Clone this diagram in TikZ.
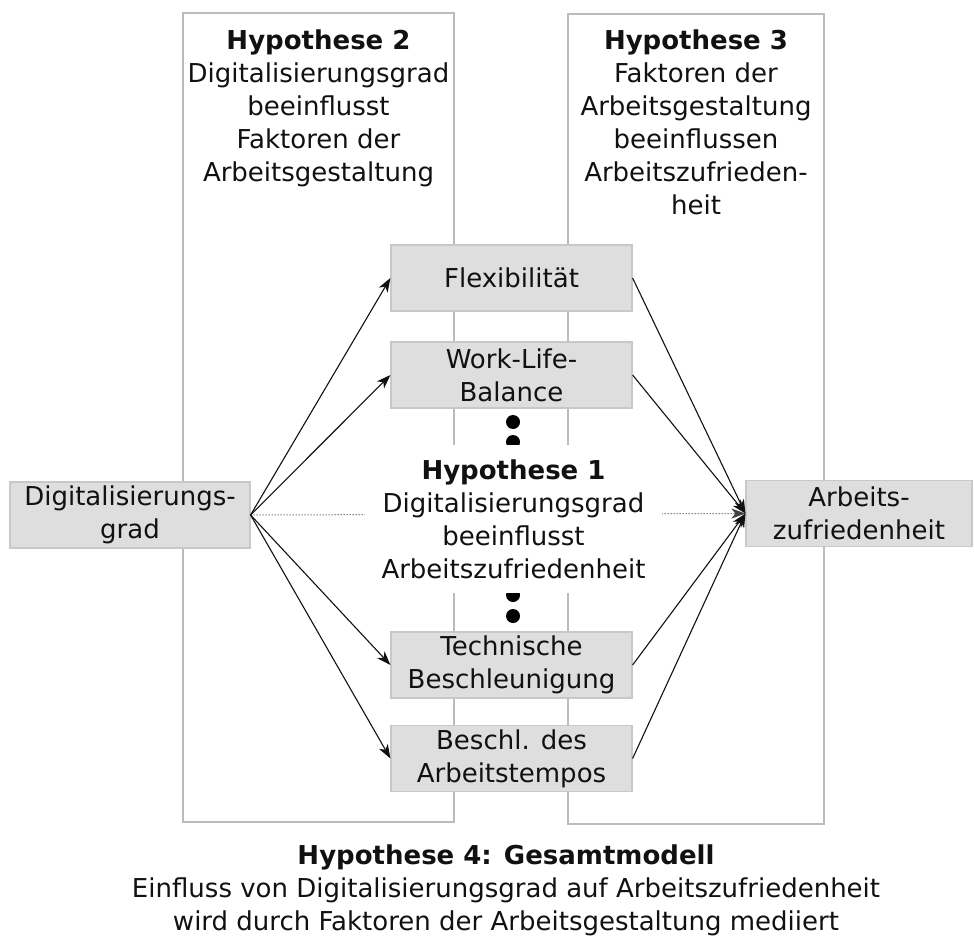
\documentclass[tikz,border=0pt]{standalone}
\usepackage{fontspec}
\setmainfont{DejaVu Sans}
\usetikzlibrary{arrows.meta}
\definecolor{boxfill}{HTML}{DEDEDE}
\definecolor{boxline}{HTML}{C8C8C8}
\definecolor{frameline}{HTML}{BBBBBB}
\definecolor{ink}{HTML}{111111}
\begin{document}
\begin{tikzpicture}[x=1pt,y=-1pt,
  txt/.style={font=\fontsize{26}{33}\selectfont, text=ink, align=center, inner sep=0pt},
  frame/.style={draw=frameline, line width=1.2pt, inner sep=0pt},
  factor/.style={txt, draw=boxline, fill=boxfill, line width=1.2pt, minimum width=241pt, minimum height=66pt},
  endbox/.style={txt, draw=boxline, fill=boxfill, line width=1.2pt, minimum height=66pt},
  dotmark/.style={circle, fill=black, inner sep=0pt, minimum size=14pt},
  link/.style={draw=ink, line width=1.1pt, -{Stealth[length=14pt,width=10pt,inset=4pt]}},
  dottedlink/.style={draw=ink!80, line width=1pt, dotted, -{Stealth[length=14pt,width=10pt,inset=4pt]}}]
\useasboundingbox (0,0) rectangle (974,936);

% tall frames of hypotheses 2 and 3
\node[frame, minimum width=271pt, minimum height=809pt] (h2frame) at (318.5,417.5) {};
\node[frame, minimum width=256pt, minimum height=810pt] (h3frame) at (696,419) {};
\node[txt, anchor=north] (h2text) at (318.5,30) {\textbf{Hypothese 2}\\Digitalisierungsgrad\\beeinflusst\\Faktoren der\\Arbeitsgestaltung};
\node[txt, anchor=north] (h3text) at (696,30) {\textbf{Hypothese 3}\\Faktoren der\\Arbeitsgestaltung\\beeinflussen\\Arbeitszufrieden-\\heit};

% factor boxes
\node[factor] (flex) at (511.5,278) {Flexibilität};
\node[factor] (wlb) at (511.5,375) {Work-Life-\\Balance};
\node[factor] (tech) at (511.5,665) {Technische\\Beschleunigung};
\node[factor] (tempo) at (511.5,758.5) {Beschl. des\\Arbeitstempos};

% independent and dependent variable
\node[endbox, minimum width=240pt] (digit) at (130,515) {Digitalisierungs-\\grad};
\node[endbox, minimum width=226pt] (arb) at (859,513.5) {Arbeits-\\zufriedenheit};

% ellipsis dots
\node[dotmark] (d1) at (513,422) {};
\node[dotmark] (d2) at (513,442) {};
\node[dotmark] (d3) at (513,595) {};
\node[dotmark] (d4) at (513,616) {};

% direct effect
\draw[dottedlink] (digit.east) -- (arb.west);

% hypothesis 1 label on white ground
\node[txt, fill=white, minimum width=297pt, minimum height=148pt] (h1) at (513.5,519) {\textbf{Hypothese 1}\\Digitalisierungsgrad\\beeinflusst\\Arbeitszufriedenheit};

% mediated paths
\foreach \f in {flex,wlb,tech,tempo}{
  \draw[link] (digit.east) -- (\f.west);
  \draw[link] (\f.east) -- (arb.west);
}

% overall model
\node[txt, anchor=north] (h4) at (506,845) {\textbf{Hypothese 4: Gesamtmodell}\\Einfluss von Digitalisierungsgrad auf Arbeitszufriedenheit\\wird durch Faktoren der Arbeitsgestaltung mediiert};
\end{tikzpicture}
\end{document}
